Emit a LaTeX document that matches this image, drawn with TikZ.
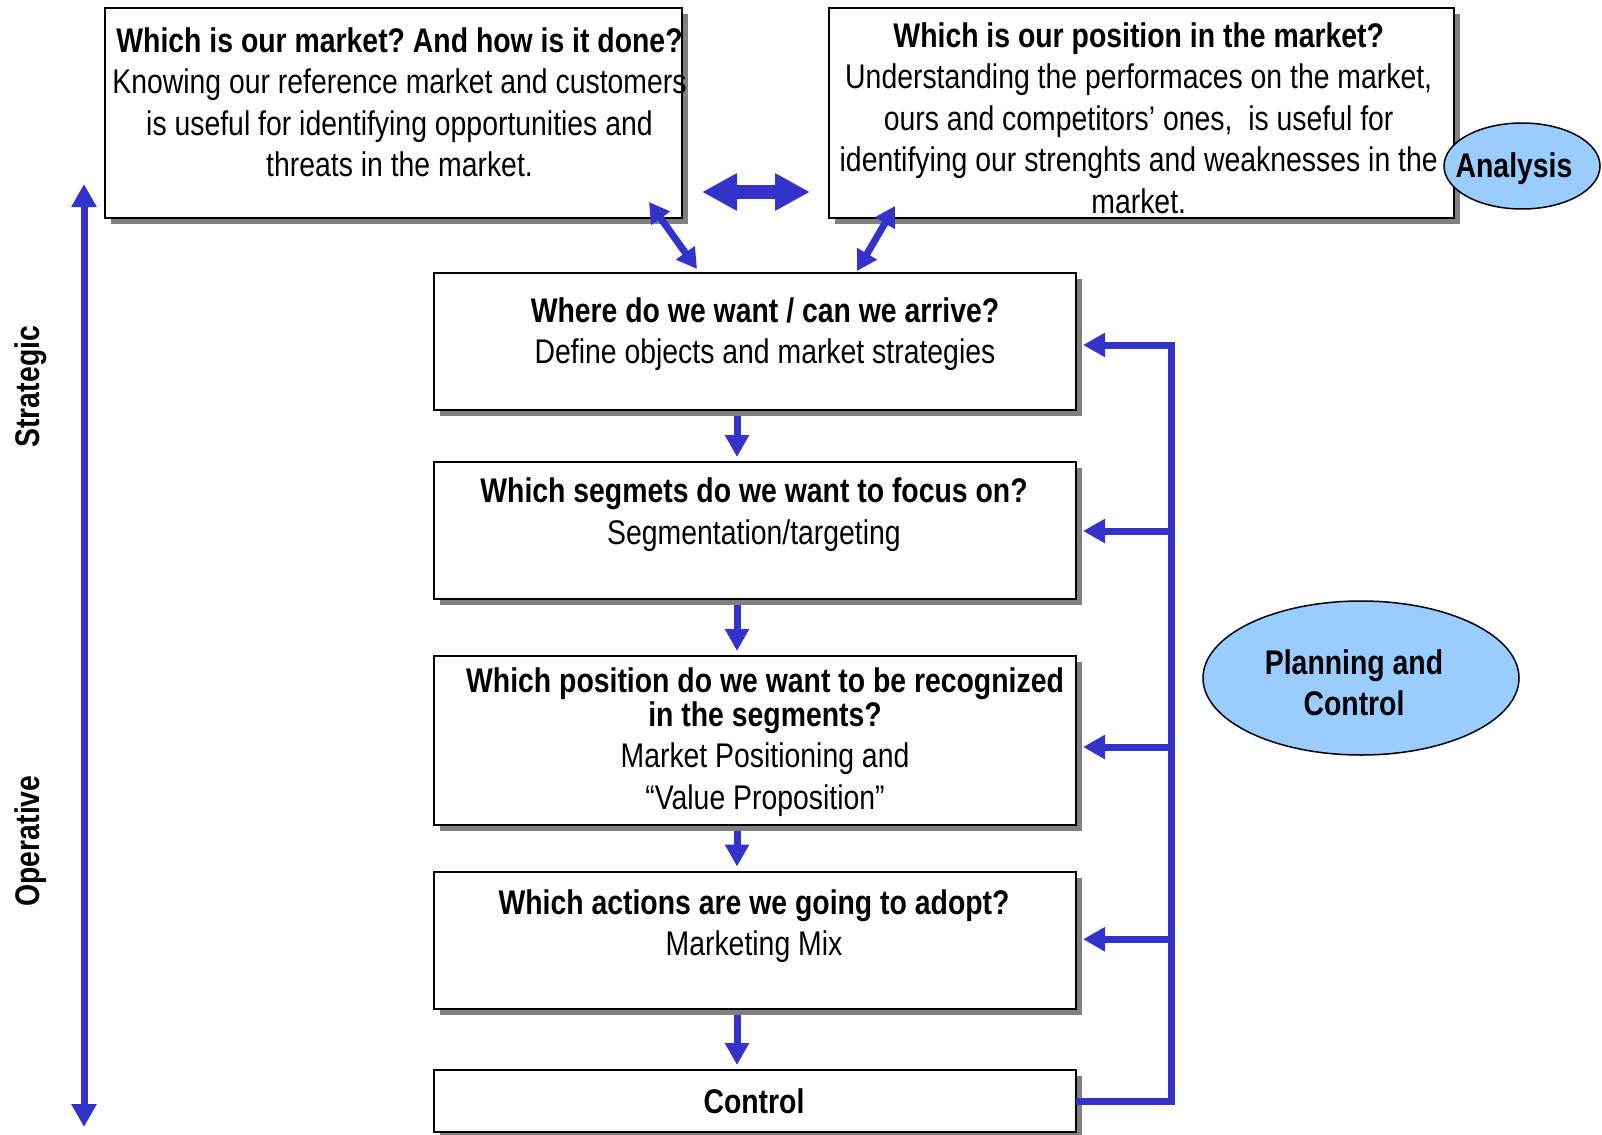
\documentclass[tikz,border=0pt]{standalone}
\usepackage{fontspec}
\setmainfont{Liberation Sans}[FakeStretch=0.83]
\usetikzlibrary{arrows.meta,calc,shadows,shapes.geometric}
\definecolor{ablue}{RGB}{51,51,204}
\definecolor{lblue}{RGB}{153,204,255}
\definecolor{shgray}{RGB}{128,128,128}
\newcommand{\topstrut}{\rule{0pt}{26pt}}
\frenchspacing
\begin{document}
\begin{tikzpicture}[x=1pt,y=-1pt,
  box/.style={draw=black, line width=2pt, fill=white, rectangle, inner sep=0pt, outer sep=0pt,
    drop shadow={shadow xshift=6pt, shadow yshift=-6pt, fill=shgray, opacity=1}},
  txt/.style={font=\fontsize{34.2}{41.5}\selectfont, align=center, inner sep=0pt, anchor=north},
  side/.style={font=\fontsize{34.2}{40}\selectfont\bfseries, rotate=90, inner sep=0pt},
  oval/.style={ellipse, draw=black, line width=1.5pt, fill=lblue, inner sep=0pt, outer sep=0pt},
  link/.style={draw=ablue, line width=7pt, -{Triangle[length=22pt,width=23pt]}},
  dlink/.style={draw=ablue, line width=7pt, {Triangle[length=23pt,width=24pt]}-{Triangle[length=23pt,width=24pt]}},
  diag/.style={draw=ablue, line width=7pt, {Triangle[length=20pt,width=22pt]}-{Triangle[length=20pt,width=22pt]}},
  biglink/.style={draw=ablue, line width=13pt, {Triangle[length=35pt,width=35pt]}-{Triangle[length=35pt,width=35pt]}}
]
\useasboundingbox (0,0) rectangle (1602,1134);

% boxes
\node[box, minimum width=577pt, minimum height=210pt] (tl) at (393.5,113) {};
\node[box, minimum width=625pt, minimum height=210pt] (tr) at (1141.5,113) {};
\node[box, minimum width=642pt, minimum height=137pt] (b1) at (755,341.5) {};
\node[box, minimum width=642pt, minimum height=137pt] (b2) at (755,530.5) {};
\node[box, minimum width=642pt, minimum height=169pt] (b3) at (755,740.5) {};
\node[box, minimum width=642pt, minimum height=137.5pt] (b4) at (755,940.25) {};
\node[box, minimum width=642pt, minimum height=62pt] (ctl) at (755,1101) {};

% texts
\node[txt] (tlt) at (399.5,26) {\topstrut\textbf{Which is our market? And how is it done?}\\Knowing our reference market and customers\\is useful for identifying opportunities and\\threats in the market.};
\node[txt] (trt) at (1138.7,21) {\topstrut\textbf{Which is our position in the market?}\\Understanding the performaces on the market,\\ours and competitors’ ones, \ is useful for\\identifying our strenghts and weaknesses in the\\market.};
\node[txt] (b1t) at (765,296) {\topstrut\textbf{Where do we want / can we arrive?}\\Define objects and market strategies};
\node[txt] (b2t) at (754,476.5) {\topstrut\textbf{Which segmets do we want to focus on?}\\Segmentation/targeting};
\node[txt] (b3t) at (765,666.5) {\topstrut\textbf{Which position do we want to be recognized}\\[-8pt]\textbf{in the segments?}\\Market Positioning and\\“Value Proposition”};
\node[txt] (b4t) at (754,888) {\topstrut\textbf{Which actions are we going to adopt?}\\Marketing Mix};
\node[txt] (ctlt) at (754,1087) {\topstrut\textbf{Control}};

% ellipses
\node[oval, minimum width=156pt, minimum height=86pt] (an) at (1522,166) {};
\node[txt] (ant) at (1514,151.5) {\topstrut\textbf{Analysis}};
\node[oval, minimum width=316pt, minimum height=154pt] (pc) at (1361,678) {};
\node[txt] (pct) at (1354,648) {\topstrut\textbf{Planning and}\\\textbf{Control}};

% side labels
\node[side] (strat) at (30.7,386.7) {Strategic};
\node[side] (oper) at (30.7,841) {Operative};

% left double arrow
\coordinate (la) at (84,184);
\coordinate (lb) at (84,1127);
\draw[dlink] (la) -- (lb);

% top double arrow
\coordinate (ha) at ($(tl.south east)+(20,-26)$);
\coordinate (hb) at ($(tr.south west)+(-19,-26)$);
\draw[biglink] (ha) -- (hb);

% diagonal arrows
\coordinate (d1a) at ($(tl.south east)+(-33,-16)$);
\coordinate (d1b) at ($(b1.north)+(-58,-4)$);
\draw[diag] (d1a) -- (d1b);
\coordinate (d2a) at ($(tr.south west)+(66,-12)$);
\coordinate (d2b) at ($(b1.north)+(102,-2)$);
\draw[diag] (d2a) -- (d2b);

% vertical arrows between boxes
\draw[link] ($(b1.south)+(-18,6)$) -- ($(b2.north)+(-18,-5)$);
\draw[link] ($(b2.south)+(-18,6)$) -- ($(b3.north)+(-18,-5)$);
\draw[link] ($(b3.south)+(-18,6)$) -- ($(b4.north)+(-18,-5)$);
\draw[link] ($(b4.south)+(-18,6)$) -- ($(ctl.north)+(-18,-5)$);

% feedback loop
\coordinate (fbt) at ($(b1.east)+(95,3.5)$);
\coordinate (t1) at ($(b1.east)+(7,3.5)$);
\coordinate (t2) at ($(b2.east)+(7,0.5)$);
\coordinate (t3) at ($(b3.east)+(7,6.5)$);
\coordinate (t4) at ($(b4.east)+(7,-1)$);
\draw[link, line join=miter] (ctl.east) -| (fbt) -- (t1);
\draw[link] (fbt |- t2) -- (t2);
\draw[link] (fbt |- t3) -- (t3);
\draw[link] (fbt |- t4) -- (t4);
\end{tikzpicture}
\end{document}
